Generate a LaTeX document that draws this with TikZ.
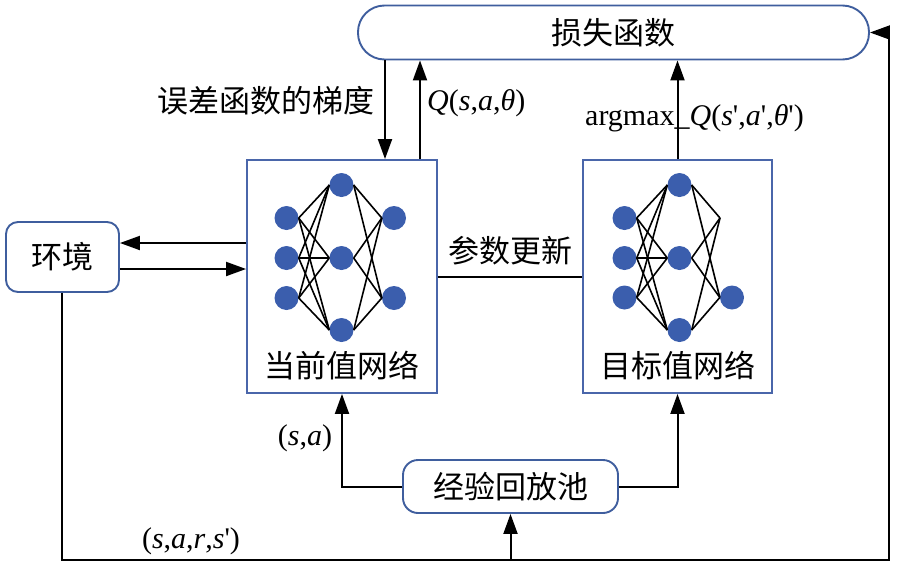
\documentclass[tikz,border=0pt]{standalone}
\usepackage{fontspec}
\setmainfont{Liberation Serif}
\newfontfamily\cjk{Noto Sans CJK SC}
\usetikzlibrary{arrows.meta,calc}
\definecolor{boxblue}{HTML}{3F5E9E}
\definecolor{netblue}{HTML}{4A66AA}
\definecolor{dotblue}{HTML}{3B5EAD}
\newcommand{\sq}{\textquotesingle}
\tikzset{
  rbox/.style={draw=boxblue,line width=1.9pt,fill=white,inner sep=0pt},
  netbox/.style={draw=netblue,line width=1.9pt,inner sep=0pt},
  cjklabel/.style={font=\cjk\fontsize{31}{33}\selectfont,inner sep=0pt},
  latlabel/.style={font=\fontsize{30}{32}\selectfont,inner sep=0pt},
  arr/.style={line width=2pt,-{Triangle[length=20pt,width=14pt]}},
  plain/.style={line width=2pt},
  dot/.style={circle,fill=dotblue,minimum size=24pt,inner sep=0pt},
  wire/.style={line width=1.6pt}
}
\begin{document}
\begin{tikzpicture}[x=1pt,y=-1pt]
\useasboundingbox (0,0) rectangle (898,568);
% boxes
\node[rbox,rounded corners=26.5pt,minimum width=511pt,minimum height=54pt] (loss) at (613.5,32.5) {};
\node[cjklabel] at (613.5,33) {损失函数};
\node[rbox,rounded corners=12pt,minimum width=113pt,minimum height=70pt] (env) at (62.5,257) {};
\node[cjklabel] at (62.5,257) {环境};
\node[rbox,rounded corners=15pt,minimum width=215pt,minimum height=53pt] (rp) at (510.5,486.5) {};
\node[cjklabel] at (510.5,487) {经验回放池};
\node[netbox,minimum width=190pt,minimum height=233pt] (cur) at (342,276.5) {};
\node[netbox,minimum width=189pt,minimum height=233pt] (tgt) at (677.5,276.5) {};
\node[cjklabel] at (342,366) {当前值网络};
\node[cjklabel] at (678,366) {目标值网络};
% current network
\node[dot] (ci1) at (286.5,218) {};
\node[dot] (ci2) at (286.5,258) {};
\node[dot] (ci3) at (286.5,298) {};
\node[dot] (ch1) at (341.5,185) {};
\node[dot] (ch2) at (341.5,258) {};
\node[dot] (ch3) at (341.5,330) {};
\node[dot] (co1) at (394,218) {};
\node[dot] (co2) at (394,298) {};
\foreach \i in {1,2,3}{\foreach \j in {1,2,3}{\draw[wire] (ci\i.east) -- (ch\j.west);}}
\foreach \j in {1,2,3}{\foreach \k in {1,2}{\draw[wire] (ch\j.east) -- (co\k.west);}}
% target network
\node[dot] (ti1) at (624.5,218) {};
\node[dot] (ti2) at (624.5,258) {};
\node[dot] (ti3) at (624.5,297.5) {};
\node[dot] (th1) at (679.5,185) {};
\node[dot] (th2) at (679.5,258) {};
\node[dot] (th3) at (679.5,330) {};
\coordinate (to1) at (720,218);
\node[dot] (to2) at (732,297.5) {};
\foreach \i in {1,2,3}{\foreach \j in {1,2,3}{\draw[wire] (ti\i.east) -- (th\j.west);}}
\foreach \j in {1,2,3}{\draw[wire] (th\j.east) -- (to1); \draw[wire] (th\j.east) -- (to2.west);}
% connectors
\coordinate (gx) at (385,0);
\coordinate (qx) at (420,0);
\draw[arr] (loss.south -| gx) -- (cur.north -| gx);
\draw[arr] (cur.north -| qx) -- (loss.south -| qx);
\draw[arr] (tgt.north) -- (tgt.north |- loss.south);
\coordinate (eu) at (0,243);
\coordinate (ed) at (0,269);
\draw[arr] (cur.west |- eu) -- (env.east |- eu);
\draw[arr] (env.east |- ed) -- (cur.west |- ed);
\draw[plain] (cur.east) -- (tgt.west);
\draw[arr] (rp.west) -| (cur.south);
\draw[arr] (rp.east) -| (tgt.south);
\coordinate (bl) at (62,560);
\coordinate (br) at (889,560);
\coordinate (tr) at (889,32.5);
\draw[plain] (env.south -| bl) -- (bl) -- (br) -- (tr);
\draw[arr] (tr) -- (loss.east);
\draw[arr] (rp.south |- bl) -- (rp.south);
% labels
\node[cjklabel,anchor=east] at (375,101) {误差函数的梯度};
\node[latlabel,anchor=west] at (427,103) {\textit{Q}(\textit{s},\textit{a},\textit{θ})};
\node[latlabel,anchor=west] at (585,118) {argmax\_\textit{Q}(\textit{s}\sq,\textit{a}\sq,\textit{θ}\sq)};
\node[cjklabel] at (510,251) {参数更新};
\node[latlabel] at (305,438) {(\textit{s},\textit{a})};
\node[latlabel] at (191,541) {(\textit{s},\textit{a},\textit{r},\textit{s}\sq)};
\end{tikzpicture}
\end{document}
